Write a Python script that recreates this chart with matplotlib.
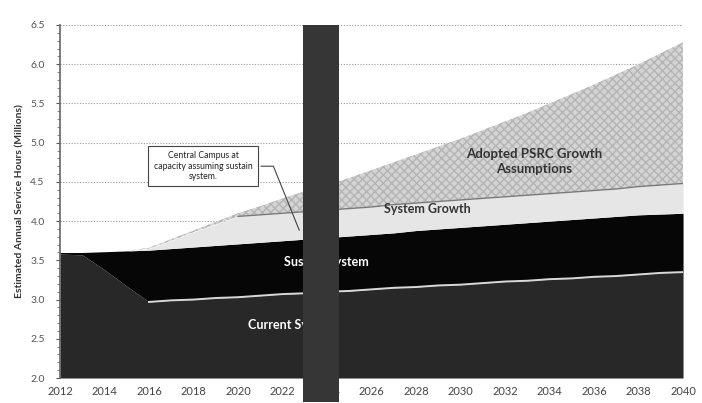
import matplotlib
matplotlib.use("Agg")
import matplotlib.pyplot as plt
from matplotlib.patches import Rectangle
from matplotlib.transforms import blended_transform_factory
from matplotlib.ticker import MultipleLocator, FormatStrFormatter
import numpy as np

plt.rcParams['font.family'] = ['Lato', 'DejaVu Sans']

# ---- data (millions of annual service hours) ----
years = list(range(2012, 2041))
current_system = [3.58, 3.57, 3.38, 3.17, 2.97, 2.99, 3.00, 3.02, 3.03, 3.05,
                  3.07, 3.08, 3.10, 3.11, 3.13, 3.15, 3.16, 3.18, 3.19, 3.21,
                  3.23, 3.24, 3.26, 3.27, 3.29, 3.30, 3.32, 3.34, 3.35]
sustain_top = [3.60, 3.60, 3.61, 3.62, 3.63, 3.65, 3.67, 3.69, 3.71, 3.73,
               3.75, 3.77, 3.79, 3.81, 3.83, 3.85, 3.88, 3.90, 3.92, 3.94,
               3.96, 3.98, 4.00, 4.02, 4.04, 4.06, 4.08, 4.09, 4.10]
growth_top = [3.60, 3.60, 3.61, 3.62, 3.65, 3.75, 3.86, 3.96, 4.06, 4.08,
              4.10, 4.12, 4.14, 4.16, 4.18, 4.21, 4.23, 4.25, 4.27, 4.29,
              4.31, 4.33, 4.35, 4.37, 4.39, 4.41, 4.44, 4.46, 4.48]
psrc_top = [3.60, 3.60, 3.61, 3.62, 3.66, 3.77, 3.88, 3.99, 4.10, 4.19,
            4.29, 4.38, 4.46, 4.55, 4.65, 4.75, 4.85, 4.95, 5.05, 5.16,
            5.27, 5.38, 5.50, 5.62, 5.74, 5.87, 6.00, 6.14, 6.28]
ymin, ymax = 2.0, 6.5
xtick_years = list(range(2012, 2041, 2))
series_labels = ["Current System", "Sustain System", "System Growth",
                 "Adopted PSRC Growth\nAssumptions"]
annotation_text = "Central Campus at\ncapacity assuming sustain\nsystem."
annotation_point = (2022.8, 3.85)

fig = plt.figure(figsize=(7.02, 4.03), dpi=100)
ax = fig.add_axes([0.0855, 0.062, 0.8875, 0.876])

y = np.array(years)
ax.fill_between(y, ymin, current_system, color='#282828', lw=0, zorder=2)
ax.fill_between(y, current_system, sustain_top, color='#060606', lw=0, zorder=2)
ax.fill_between(y, sustain_top, growth_top, color='#e6e6e6', lw=0, zorder=2)
ax.fill_between(y, growth_top, psrc_top, facecolor='#d4d4d4', edgecolor='#b4b4b4',
                hatch='xxxx', lw=0, zorder=2)
ax.plot(y[4:], np.array(current_system)[4:], color='#d8d8d8', lw=1.4, zorder=3)
ax.plot(y[8:], np.array(growth_top)[8:], color='#7a7a7a', lw=1.0, zorder=3)

ax.set_xlim(2012, 2040)
ax.set_ylim(ymin, ymax)
ax.set_xticks(xtick_years)
ax.set_xticklabels([str(v) for v in xtick_years])
ax.yaxis.set_major_locator(MultipleLocator(0.5))
ax.yaxis.set_minor_locator(MultipleLocator(0.1))
ax.yaxis.set_major_formatter(FormatStrFormatter('%.1f'))
ax.tick_params(axis='x', length=0, labelsize=8, colors='#444444', pad=6)
ax.tick_params(axis='y', which='major', length=3, labelsize=7.5, colors='#555555', pad=8)
ax.tick_params(axis='y', which='minor', length=2, color='#777777')
ax.grid(axis='y', which='major', color='#9a9a9a', ls=(0, (1, 1.5)), lw=0.8, zorder=1)
ax.set_axisbelow(True)
for s in ['top', 'right', 'bottom']:
    ax.spines[s].set_visible(False)
ax.spines['left'].set_color('#666666')
ax.spines['left'].set_linewidth(1.2)

ax.set_ylabel("Estimated Annual Service Hours (Millions)", fontsize=7.5,
              fontweight='bold', color='#333333', labelpad=4)

# layer labels
ax.text(2023.96, 3.48, series_labels[1], color='white', fontsize=9,
        fontweight='bold', ha='center', va='center', zorder=4)
ax.text(2022.4, 2.68, series_labels[0], color='white', fontsize=9,
        fontweight='bold', ha='center', va='center', zorder=4)
ax.text(2028.5, 4.15, series_labels[2], color='#333333', fontsize=9,
        fontweight='bold', ha='center', va='center', zorder=4)
ax.text(2033.3, 4.76, series_labels[3], color='#333333', fontsize=9.5,
        fontweight='bold', ha='center', va='center', zorder=4, linespacing=1.25)

ax.annotate(annotation_text, xy=annotation_point, xytext=(2018.43, 4.70),
            fontsize=6.3, ha='center', va='center', color='#222222', zorder=5,
            bbox=dict(boxstyle='square,pad=0.6', fc='white', ec='#444444', lw=0.8),
            arrowprops=dict(arrowstyle='-', color='#444444', lw=0.8,
                            relpos=(1, 0.5),
                            connectionstyle='angle,angleA=0,angleB=112,rad=0'))

# dark vertical band crossing the chart
trans = blended_transform_factory(ax.transData, ax.transAxes)
ax.add_patch(Rectangle((2022.92, -0.068), 1.62, 1.068, transform=trans,
                       facecolor='#363636', edgecolor='none', clip_on=False, zorder=6))

fig.savefig('out.png', dpi=100)
